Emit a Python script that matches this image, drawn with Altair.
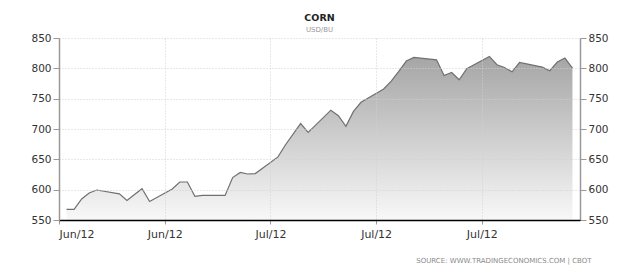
import altair as alt
import pandas as pd

# ---- data ----
dates = [
    "2012-06-04", "2012-06-05", "2012-06-06", "2012-06-07", "2012-06-08",
    "2012-06-11", "2012-06-12", "2012-06-13", "2012-06-14", "2012-06-15",
    "2012-06-18", "2012-06-19", "2012-06-20", "2012-06-21", "2012-06-22",
    "2012-06-25", "2012-06-26", "2012-06-27", "2012-06-28", "2012-06-29",
    "2012-07-02", "2012-07-03", "2012-07-05", "2012-07-06",
    "2012-07-09", "2012-07-10", "2012-07-11", "2012-07-12", "2012-07-13",
    "2012-07-16", "2012-07-17", "2012-07-18", "2012-07-19", "2012-07-20",
    "2012-07-23", "2012-07-24", "2012-07-25", "2012-07-26", "2012-07-27",
    "2012-07-30", "2012-07-31", "2012-08-01", "2012-08-02", "2012-08-03",
    "2012-08-06", "2012-08-07", "2012-08-08", "2012-08-09", "2012-08-10",
]
prices = [
    567.5, 567.5, 584.6, 594.5, 599.4,
    593.0, 582.3, 592.0, 601.6, 580.6,
    601.0, 612.6, 612.6, 589.0, 590.5,
    590.5, 620.0, 628.4, 625.8, 626.5,
    654.0, 674.0, 709.0, 694.3,
    731.0, 722.0, 704.5, 729.0, 744.0,
    766.0, 779.0, 795.0, 812.0, 818.0,
    814.0, 788.2, 793.2, 781.1, 799.3,
    819.6, 805.9, 801.4, 794.3, 809.6,
    802.0, 796.0, 810.3, 816.9, 800.4,
]
tick_dates = ["2012-06-03", "2012-06-17", "2012-07-01", "2012-07-15", "2012-07-29"]
x_domain = ["2012-06-03", "2012-08-11"]
y_domain = [550, 850]
y_ticks = [550, 600, 650, 700, 750, 800, 850]

title_text = "CORN"
subtitle_text = "USD/BU"
source_text = "SOURCE:  WWW.TRADINGECONOMICS.COM  |  CBOT"

df = pd.DataFrame({"date": dates, "price": prices})


def ms(d):
    return int(pd.Timestamp(d, tz="UTC").timestamp() * 1000)


FONT = "DejaVu Sans"

x_enc = alt.X(
    "date:T",
    scale=alt.Scale(type="utc", domain=[ms(d) for d in x_domain]),
    axis=alt.Axis(
        values=[ms(d) for d in tick_dates],
        format="%b/%y",
        labelFont=FONT,
        labelFontSize=11,
        labelColor="#333333",
        labelPadding=4,
        tickSize=4,
        tickColor="#999999",
        domainColor="#000000",
        domainWidth=1.5,
        grid=True,
        gridColor="#d0d0d0",
        gridDash=[1, 2],
        zindex=1,
        title=source_text,
        titleFont=FONT,
        titleFontSize=7,
        titleFontWeight="normal",
        titleColor="#8a8a8a",
        titleAlign="right",
        titleBaseline="middle",
        titleX=532,
        titleY=40,
    ),
)

y_scale = alt.Scale(domain=y_domain, nice=False, zero=False)

axis_common = dict(
    values=y_ticks,
    labelFont=FONT,
    labelFontSize=10.5,
    labelColor="#333333",
    labelPadding=2,
    tickSize=6,
    tickColor="#999999",
    domainColor="#999999",
    domainWidth=1.5,
    title=None,
)

area = alt.Chart(df).mark_area(
    color=alt.Gradient(
        gradient="linear",
        stops=[
            alt.GradientStop(color="#a5a5a5", offset=0),
            alt.GradientStop(color="#f8f8f8", offset=1),
        ],
        x1=0, x2=0, y1=0, y2=1,
    )
).encode(
    x=x_enc,
    y=alt.Y(
        "price:Q",
        scale=y_scale,
        axis=alt.Axis(
            orient="left",
            grid=True,
            gridColor="#d0d0d0",
            gridDash=[1, 2],
            zindex=1,
            **axis_common,
        ),
    ),
    y2=alt.datum(y_domain[0]),
)

line = alt.Chart(df).mark_line(color="#707070", strokeWidth=1.2).encode(
    x=alt.X("date:T"),
    y=alt.Y(
        "price:Q",
        scale=y_scale,
        axis=alt.Axis(orient="right", grid=False, **axis_common),
    ),
)

chart = (
    alt.layer(area, line)
    .resolve_scale(y="independent")
    .properties(
        width=521,
        height=182,
        padding={"left": 59, "top": 38, "right": 60, "bottom": 54},
        autosize=alt.AutoSizeParams(type="none"),
        title=alt.TitleParams(
            text=title_text,
            subtitle=subtitle_text,
            anchor="middle",
            font=FONT,
            fontSize=9.5,
            fontWeight="bold",
            color="#222222",
            subtitleFont=FONT,
            subtitleFontSize=7,
            subtitleColor="#999999",
            offset=0,
            subtitlePadding=4,
        ),
        background="white",
    )
    .configure_view(stroke=None)
)

chart.save("out.html", embed_options={"renderer": "svg", "actions": False})
